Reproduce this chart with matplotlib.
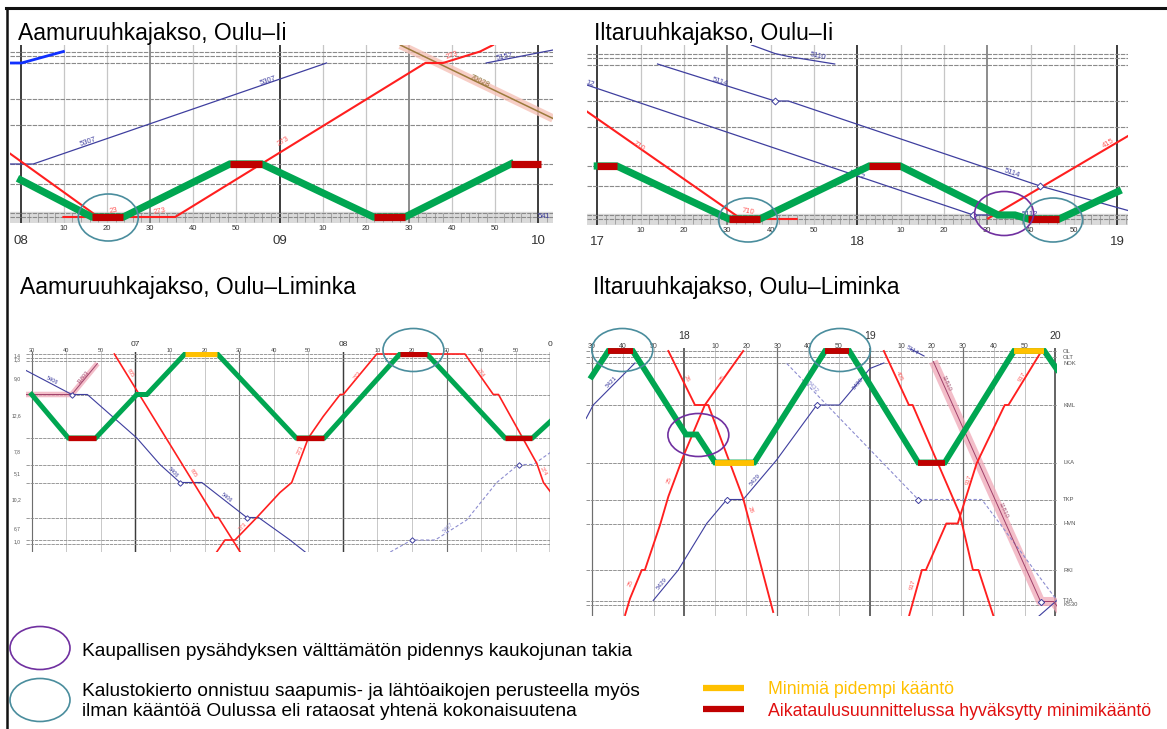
#!/usr/bin/env python3

import matplotlib.pyplot as plt
import numpy as np
from matplotlib.patches import Ellipse

plt.rcParams["font.family"] = ["Liberation Sans", "DejaVu Sans"]

out_filename = "out.png"
W, H = 1167, 729

green = "#00a651"
red = "#ff1f1f"
red_text = "#ff5a5a"
blue = "#3f3f9f"
blue_light = "#8d8dd0"
teal = "#4a8d9d"
purple = "#7030a0"
turn_colors = {"min": "#c00000", "long": "#ffc000"}
circle_colors = {"teal": teal, "purple": purple}

# ---------------- Oulu–Ii, y = km from Oulu ----------------
ii_station_km = [0, 0.8, 6.6, 10.6, 18.4, 23.6, 30.8, 32.3, 33.1]

# morning, minutes after 08:00
am_ii_green_t = [0, 16.5, 23.8, 48.5, 55.9, 81.8, 89.1, 113.6]
am_ii_green_km = [7.4, 0, 0, 10.6, 10.6, 0, 0, 10.6]
am_ii_turn_from = [16.5, 48.5, 81.8, 113.6]
am_ii_turn_to = [23.8, 55.9, 89.1, 120.6]
am_ii_turn_km = [0, 10.6, 0, 10.6]
am_ii_turn_kind = ["min", "min", "min", "min"]

am_ii_23_t = [-2.5, 17.5, 18.5]
am_ii_23_km = [12.7, 0.3, 0]
am_ii_273_t = [9.9, 35.8, 93.8, 97.9, 106.5, 109.5]
am_ii_273_km = [0, 0, 30.8, 30.8, 33.1, 34.4]
am_ii_5307_t = [-2.5, 2.9, 70.9]
am_ii_5307_km = [10.6, 10.6, 30.8]
am_ii_fast_t = [-2.5, 0.2, 9.9]
am_ii_fast_km = [30.8, 30.8, 33.1]
am_ii_5157_t = [107.9, 123.4]
am_ii_5157_km = [30.8, 33.4]
am_ii_70028_t = [88.0, 123.4]
am_ii_70028_km = [34.4, 19.7]

am_ii_label_text = ["5307", "5307", "23", "273", "273", "273", "70028", "5157", "541"]
am_ii_label_t = [15.6, 57.4, 21.4, 32.3, 60.9, 99.9, 106.5, 112.3, 121.4]
am_ii_label_km = [15.0, 27.2, 1.3, 1.1, 15.1, 32.4, 27.1, 32.0, 0.0]
am_ii_label_rot = [19, 19, 10, 10, 31, 20, -26, 11, 0]
am_ii_label_color = [blue, blue, red_text, red_text, red_text, red_text, "#8a6a30", blue, blue]

am_ii_circle_t = [20.3]
am_ii_circle_km = [-0.1]
am_ii_circle_kind = ["teal"]

# evening, minutes after 17:00
pm_ii_green_t = [0, 4.5, 30.4, 37.5, 62.8, 69.9, 92.5, 96.4, 99.5, 106.6, 120.2]
pm_ii_green_km = [10.6, 10.6, 0, 0, 10.6, 10.6, 0.8, 0.8, 0, 0, 5.5]
pm_ii_turn_from = [0, 30.4, 62.8, 99.5]
pm_ii_turn_to = [4.5, 37.5, 69.9, 106.6]
pm_ii_turn_km = [10.6, 0, 10.6, 0]
pm_ii_turn_kind = ["min", "min", "min", "min"]

pm_ii_710_t = [-2.4, 32.4, 34.0, 46.0]
pm_ii_710_km = [21.5, 0.5, 0, 0]
pm_ii_5112_t = [-2.4, 86.8, 92.9, 99.8]
pm_ii_5112_km = [26.8, 0.8, 0.8, 0]
pm_ii_5114_t = [13.9, 41.0, 44.1, 102.2, 122.5]
pm_ii_5114_km = [31.0, 23.6, 23.6, 6.6, 1.7]
pm_ii_5110_t = [35.6, 41.0, 44.1, 54.8]
pm_ii_5110_km = [34.8, 33.1, 32.5, 31.0]
pm_ii_415_t = [90.2, 122.5]
pm_ii_415_km = [0.1, 16.6]
pm_ii_stop_t = [41.0, 102.2, 86.8]
pm_ii_stop_km = [23.6, 6.6, 0.8]

pm_ii_label_text = ["12", "710", "710", "5114", "5114", "5110", "5112", "5112", "415"]
pm_ii_label_t = [-1.7, 9.5, 34.8, 28.3, 95.6, 51.0, 59.9, 99.9, 117.9]
pm_ii_label_km = [27.0, 14.5, 1.4, 27.5, 9.1, 32.5, 8.8, 0.8, 15.1]
pm_ii_label_rot = [-18, -34, -10, -17, -19, -12, -19, 0, 31]
pm_ii_label_color = [blue, red_text, red_text, blue, blue, blue, blue, blue, red_text]

pm_ii_circle_t = [34.8, 93.9, 105.2]
pm_ii_circle_km = [-0.2, 1.1, -0.2]
pm_ii_circle_kind = ["teal", "purple", "teal"]

# ---------------- Oulu–Liminka, y = km from Oulu (downwards) ----------------
# morning, minutes after 06:30
am_lim_station_km = [0, 0.7, 1.3, 8.1, 16.8, 22.1, 25.7, 32.7, 37.2, 37.9]
am_lim_dist_text = ["1,4", "1,3", "9,0", "12,6", "7,8", "5,1", "10,2", "6,7", "1,0"]
am_lim_dist_km = [0.3, 1.2, 5.0, 12.4, 19.5, 23.9, 29.1, 34.9, 37.5]

am_lim_green_t = [0, 10.6, 18.5, 30.4, 33.3, 44.3, 53.7, 76.5, 84.6, 106.5, 114.3, 136.9, 144.8, 150]
am_lim_green_km = [8.1, 16.8, 16.8, 8.1, 8.1, 0, 0, 16.8, 16.8, 0, 0, 16.8, 16.8, 13.5]
am_lim_turn_from = [10.6, 44.3, 76.5, 106.5, 136.9]
am_lim_turn_to = [18.5, 53.7, 84.6, 114.3, 144.8]
am_lim_turn_km = [16.8, 0, 16.8, 0, 16.8]
am_lim_turn_kind = ["min", "long", "min", "min", "min"]

am_lim_11803_t = [-1.9, 11.6, 19.0]
am_lim_11803_km = [8.1, 8.1, 1.9]
am_lim_5406_t = [-1.9, 11.6, 16.1, 30.4, 37.1, 42.9, 49.2, 62.2, 65.6, 74.7, 79.1]
am_lim_5406_km = [3.2, 8.1, 8.1, 16.8, 22.1, 25.7, 25.7, 32.7, 32.7, 37.2, 39.6]
am_lim_605_t = [23.9, 53.0, 54.0, 60.3]
am_lim_605_km = [0, 32.7, 32.7, 39.6]
am_lim_273_t = [53.5, 55.9, 58.8, 65.1, 71.8, 75.2, 80.0, 84.3, 89.2, 90.1, 99.8, 125.3,
                133.5, 135.0, 146.1, 148.0, 150.4]
am_lim_273_km = [39.6, 37.2, 37.2, 32.7, 27.7, 25.7, 16.8, 12.5, 8.1, 8.1, 0, 0,
                 8.1, 8.1, 21.9, 25.7, 27.9]
am_lim_5407_t = [103.7, 109.9, 116.7, 125.8, 134.5, 140.8, 145.1, 150.4]
am_lim_5407_km = [39.6, 37.2, 37.2, 33.2, 25.7, 22.1, 22.1, 19.5]
am_lim_stop_t = [11.6, 42.9, 62.2, 109.9, 140.8]
am_lim_stop_km = [8.1, 25.7, 32.7, 37.2, 22.1]

am_lim_label_text = ["11803", "5406", "5406", "5406", "605", "605", "273", "273", "273",
                     "274", "274", "5407"]
am_lim_label_t = [14.9, 5.9, 40.9, 56.5, 28.7, 46.7, 61.2, 77.8, 94.3, 129.7, 147.9, 120.4]
am_lim_label_km = [4.6, 5.2, 23.6, 28.8, 3.8, 23.8, 34.6, 19.2, 4.2, 3.8, 23.5, 34.8]
am_lim_label_rot = [50, -27, -46, -38, -58, -58, 46, 65, 51, -55, -60, 44]
am_lim_label_color = ["#a0406a", blue, blue, blue, red_text, red_text, red_text, red_text,
                      red_text, red_text, red_text, blue_light]

am_lim_circle_t = [110.4]
am_lim_circle_km = [-0.8]
am_lim_circle_kind = ["teal"]

# evening, minutes after 17:30
pm_lim_station_name = ["OL", "OLT", "NOK", "KML", "LKA", "TKP", "HVN", "RKI", "TJA", "KS30"]
pm_lim_station_km = [0, 1.2, 2.4, 10.8, 22.3, 29.7, 34.5, 43.8, 49.9, 50.8]

pm_lim_green_t = [0, 5.4, 13.3, 30.5, 34.0, 39.9, 52.6, 75.5, 83.3, 105.6, 114.2, 136.6, 146.4, 150.5]
pm_lim_green_km = [5.1, 0, 0, 16.7, 16.7, 22.3, 22.3, 0, 0, 22.3, 22.3, 0, 0, 3.7]
pm_lim_turn_from = [5.4, 39.9, 75.5, 105.6, 136.6]
pm_lim_turn_to = [13.3, 52.6, 83.3, 114.2, 146.4]
pm_lim_turn_km = [0, 22.3, 0, 22.3, 0]
pm_lim_turn_kind = ["min", "long", "min", "min", "long"]

pm_lim_5421_t = [-1.8, 0.5, 14.0]
pm_lim_5421_km = [13.5, 10.8, 2.4]
pm_lim_26_t = [24.8, 33.4, 37.7, 49.0, 58.7]
pm_lim_26_km = [0, 10.8, 10.8, 29.5, 52.2]
pm_lim_25_t = [10.8, 12.4, 16.2, 17.2, 22.1, 24.8, 29.6, 36.6, 49.0]
pm_lim_25_km = [52.8, 49.5, 43.8, 43.8, 34.8, 29.1, 21.1, 10.8, 0]
pm_lim_5429_t = [19.9, 28.0, 37.2, 43.7, 49.0, 59.8, 72.8, 80.1, 90.0, 94.5]
pm_lim_5429_km = [49.9, 43.8, 34.5, 29.7, 29.7, 21.8, 10.8, 10.8, 3.5, 2.4]
pm_lim_5432_t = [63.1, 105.6, 126.2, 150.5]
pm_lim_5432_km = [2.5, 29.7, 29.7, 49.9]
pm_lim_5114_t = [103.2, 107.5]
pm_lim_5114_km = [-0.4, 1.0]
pm_lim_405_t = [94.5, 102.6, 103.8, 119.0, 123.3, 125.1, 130.0]
pm_lim_405_km = [0, 10.8, 10.8, 32.5, 43.8, 43.8, 53.1]
pm_lim_917_t = [102.6, 106.8, 108.1, 114.7, 118.4, 124.5, 133.6, 134.8, 145.5]
pm_lim_917_km = [53.1, 43.8, 43.8, 34.5, 34.5, 22.5, 10.8, 10.8, 0]
pm_lim_11810_t = [110.5, 145.2, 149.4, 153.0]
pm_lim_11810_km = [2.1, 50.1, 50.1, 53.1]
pm_lim_tail_t = [144.5, 150.6]
pm_lim_tail_km = [53.1, 49.8]
pm_lim_stop_t = [43.7, 72.8, 105.6, 145.2]
pm_lim_stop_km = [29.7, 10.8, 29.7, 50.1]

pm_lim_label_text = ["5421", "26", "28", "25", "25", "25", "5429", "5429", "5430", "5432",
                     "5114", "405", "917", "917", "917", "11810", "11810"]
pm_lim_label_t = [6.5, 30.7, 51.2, 42.4, 25.1, 12.6, 22.6, 52.8, 86.2, 71.6, 103.6, 99.5,
                  139.1, 122.0, 103.8, 114.7, 133.0]
pm_lim_label_km = [6.1, 5.5, 31.8, 5.5, 25.8, 46.5, 46.5, 25.8, 6.5, 7.1, -0.2, 5.1,
                   5.1, 25.8, 46.8, 6.5, 31.8]
pm_lim_label_rot = [46, -64, -69, 55, 71, 67, 51, 49, 50, -46, -31, -65, 58, 72, 74, -66, -66]
pm_lim_label_color = [blue, red_text, red_text, red_text, red_text, red_text, blue, blue, blue,
                      blue_light, blue, red_text, red_text, red_text, red_text, "#a05070", "#a05070"]

pm_lim_circle_t = [9.9, 80.3, 34.5]
pm_lim_circle_km = [-0.2, -0.2, 16.8]
pm_lim_circle_kind = ["teal", "teal", "purple"]


def panel_axes(fig, x0, y0, x1, y1, tlim, ylim):
    ax = fig.add_axes([x0 / W, 1 - y1 / H, (x1 - x0) / W, (y1 - y0) / H])
    ax.set_xlim(*tlim)
    ax.set_ylim(*ylim)
    ax.set_axis_off()
    return ax


def draw_grid(ax, t_end, hour_at, stations, scale=1.0):
    for t in range(0, t_end + 1, 10):
        if (t - hour_at) % 60 == 0:
            color, lw = "#3c3c3c", 1.4 * scale
        elif (t - hour_at) % 30 == 0:
            color, lw = "#6e6e6e", 1.1 * scale
        else:
            color, lw = "#c6c6c6", 0.9 * scale
        ax.axvline(t, color=color, lw=lw, zorder=1)
    for km in stations:
        ax.axhline(km, color="#8a8a8a", lw=0.8 * scale, ls=(0, (4, 1)), zorder=1.5)


def draw_line(ax, t, km, kind, scale=1.0):
    if kind == "red":
        ax.plot(t, km, color=red, lw=1.5 * scale, zorder=3)
    elif kind == "blue":
        ax.plot(t, km, color=blue, lw=0.9 * scale, zorder=3)
    elif kind == "blue_dash":
        ax.plot(t, km, color=blue_light, lw=0.8, ls=(0, (3, 2)), zorder=3)
    elif kind == "fast":
        ax.plot(t, km, color="#1030ff", lw=2.0, zorder=3)
    elif kind == "freight":
        ax.plot(t, km, color="#f6c2b8", lw=6, alpha=0.8, solid_capstyle="butt", zorder=2.5)
        ax.plot(t, km, color="#9c7a3c", lw=1.1, zorder=3)
    elif kind == "special":
        ax.plot(t, km, color="#f0a8b8", lw=5 * scale, alpha=0.75, solid_capstyle="butt", zorder=2.5)
        ax.plot(t, km, color="#a0406a", lw=0.7, zorder=3)


def draw_stops(ax, t, km, ms=3.5):
    ax.plot(t, km, ls="", marker="D", ms=ms, mfc="white", mec=blue, mew=0.7, zorder=3.5)


def draw_circulation(ax, gt, gkm, t_from, t_to, t_km, t_kind, glw, blw):
    ax.plot(gt, gkm, color=green, lw=glw, zorder=4, solid_joinstyle="miter")
    for a, b, km, kind in zip(t_from, t_to, t_km, t_kind):
        ax.plot([a, b], [km, km], color=turn_colors[kind], lw=blw,
                solid_capstyle="butt", zorder=5)


def draw_labels(ax, text, t, km, rot, color, size):
    for s, x, y, r, c in zip(text, t, km, rot, color):
        ax.text(x, y, s, rotation=r, rotation_mode="anchor", ha="center", va="center",
                fontsize=size, color=c, zorder=3.6)


def draw_circles(ax, t, km, kind, w, h):
    for x, y, k in zip(t, km, kind):
        ax.add_patch(Ellipse((x, y), w, h, fill=False, ec=circle_colors[k], lw=1.2,
                             zorder=6, clip_on=False))


def main():
    fig = plt.figure(figsize=(W / 100, H / 100), dpi=100)

    # frame + legend in pixel space
    base = fig.add_axes([0, 0, 1, 1])
    base.set_xlim(0, W)
    base.set_ylim(H, 0)
    base.set_axis_off()
    base.plot([6, W], [8, 8], color="#111111", lw=2.2)
    base.plot([7, 7], [8, H], color="#111111", lw=1.8)

    base.add_patch(Ellipse((40, 648), 60, 43, fill=False, ec=purple, lw=1.2))
    base.add_patch(Ellipse((40, 700), 60, 43, fill=False, ec=teal, lw=1.2))
    leg_font = 13.8
    base.text(82, 651, "Kaupallisen pysähdyksen välttämätön pidennys kaukojunan takia",
              fontsize=leg_font, va="center")
    base.text(82, 691, "Kalustokierto onnistuu saapumis- ja lähtöaikojen perusteella myös",
              fontsize=leg_font, va="center")
    base.text(82, 712, "ilman kääntöä Oulussa eli rataosat yhtenä kokonaisuutena",
              fontsize=leg_font, va="center")
    base.plot([703, 744], [688, 688], color=turn_colors["long"], lw=4.5, solid_capstyle="butt")
    base.plot([703, 744], [709, 709], color=turn_colors["min"], lw=4.5, solid_capstyle="butt")
    base.text(768, 689, "Minimiä pidempi kääntö", fontsize=12.8, va="center",
              color="#ffc000")
    base.text(768, 711, "Aikataulusuunnittelussa hyväksytty minimikääntö", fontsize=12.8,
              va="center", color="#e01010")

    title_size = 16.5
    fig.text(18 / W, 1 - 40 / H, "Aamuruuhkajakso, Oulu–Ii", fontsize=title_size)
    fig.text(594 / W, 1 - 40 / H, "Iltaruuhkajakso, Oulu–Ii", fontsize=title_size)
    fig.text(20 / W, 1 - 294 / H, "Aamuruuhkajakso, Oulu–Liminka", fontsize=title_size)
    fig.text(593 / W, 1 - 294 / H, "Iltaruuhkajakso, Oulu–Liminka", fontsize=title_size)

    # ---- top-left: morning Oulu–Ii ----
    ax = panel_axes(fig, 10, 45, 553, 223, (-2.48, 123.4), (-1.2, 34.4))
    ax.axhspan(-1.0, 1.0, color="#dadada", zorder=0.5)
    ax.vlines(np.arange(0, 124, 2), -0.9, 0.9, color="#9a9a9a", lw=0.6, zorder=0.6)
    draw_grid(ax, 120, 0, ii_station_km)
    draw_line(ax, am_ii_5307_t, am_ii_5307_km, "blue")
    draw_line(ax, am_ii_fast_t, am_ii_fast_km, "fast")
    draw_line(ax, am_ii_5157_t, am_ii_5157_km, "blue")
    draw_line(ax, am_ii_70028_t, am_ii_70028_km, "freight")
    draw_line(ax, am_ii_23_t, am_ii_23_km, "red")
    draw_line(ax, am_ii_273_t, am_ii_273_km, "red")
    draw_circulation(ax, am_ii_green_t, am_ii_green_km, am_ii_turn_from, am_ii_turn_to,
                     am_ii_turn_km, am_ii_turn_kind, 5.2, 5.2)
    draw_labels(ax, am_ii_label_text, am_ii_label_t, am_ii_label_km, am_ii_label_rot,
                am_ii_label_color, 5.5)
    draw_circles(ax, am_ii_circle_t, am_ii_circle_km, am_ii_circle_kind, 13.9, 9.4)
    for t in range(10, 121, 10):
        if t % 60:
            ax.text(t, -2.2, str(t % 60), ha="center", va="center", fontsize=5.5, color="#333333")
    for t, s in zip([0, 60, 120], ["08", "09", "10"]):
        ax.text(t, -4.8, s, ha="center", va="center", fontsize=9.5, color="#333333")

    # ---- top-right: evening Oulu–Ii ----
    ax = panel_axes(fig, 587, 45, 1128, 225, (-2.38, 122.5), (-1.2, 34.8))
    ax.axhspan(-1.0, 1.0, color="#dadada", zorder=0.5)
    ax.vlines(np.arange(0, 123, 2), -0.9, 0.9, color="#9a9a9a", lw=0.6, zorder=0.6)
    draw_grid(ax, 120, 0, ii_station_km)
    draw_line(ax, pm_ii_5112_t, pm_ii_5112_km, "blue")
    draw_line(ax, pm_ii_5114_t, pm_ii_5114_km, "blue")
    draw_line(ax, pm_ii_5110_t, pm_ii_5110_km, "blue")
    draw_stops(ax, pm_ii_stop_t, pm_ii_stop_km)
    draw_line(ax, pm_ii_710_t, pm_ii_710_km, "red")
    draw_line(ax, pm_ii_415_t, pm_ii_415_km, "red")
    draw_circulation(ax, pm_ii_green_t, pm_ii_green_km, pm_ii_turn_from, pm_ii_turn_to,
                     pm_ii_turn_km, pm_ii_turn_kind, 5.2, 5.2)
    draw_labels(ax, pm_ii_label_text, pm_ii_label_t, pm_ii_label_km, pm_ii_label_rot,
                pm_ii_label_color, 5.5)
    draw_circles(ax, pm_ii_circle_t, pm_ii_circle_km, pm_ii_circle_kind, 13.6, 8.8)
    for t in range(10, 121, 10):
        if t % 60:
            ax.text(t, -2.2, str(t % 60), ha="center", va="center", fontsize=5.5, color="#333333")
    for t, s in zip([0, 60, 120], ["17", "18", "19"]):
        ax.text(t, -4.6, s, ha="center", va="center", fontsize=9.5, color="#333333")

    # ---- bottom-left: morning Oulu–Liminka ----
    ax = panel_axes(fig, 26, 352, 550, 552, (-1.65, 149.9), (39.6, -0.4))
    draw_grid(ax, 150, 30, am_lim_station_km, scale=0.75)
    draw_line(ax, am_lim_5406_t, am_lim_5406_km, "blue", 0.9)
    draw_line(ax, am_lim_5407_t, am_lim_5407_km, "blue_dash")
    draw_stops(ax, am_lim_stop_t, am_lim_stop_km, 2.8)
    draw_line(ax, am_lim_11803_t, am_lim_11803_km, "special", 0.8)
    draw_line(ax, am_lim_605_t, am_lim_605_km, "red", 0.8)
    draw_line(ax, am_lim_273_t, am_lim_273_km, "red", 0.8)
    draw_circulation(ax, am_lim_green_t, am_lim_green_km, am_lim_turn_from, am_lim_turn_to,
                     am_lim_turn_km, am_lim_turn_kind, 3.6, 3.8)
    draw_labels(ax, am_lim_label_text, am_lim_label_t, am_lim_label_km, am_lim_label_rot,
                am_lim_label_color, 4)
    draw_circles(ax, am_lim_circle_t, am_lim_circle_km, am_lim_circle_kind, 17.6, 8.6)
    for s, km in zip(am_lim_dist_text, am_lim_dist_km):
        ax.text(-4.3, km, s, ha="center", va="center", fontsize=3.6, color="#555555")
    for t in range(0, 151, 10):
        if (t - 30) % 60:
            ax.text(t, -0.7, str((30 + t) % 60), ha="center", va="center", fontsize=4,
                    color="#444444")
    for t, s in zip([30, 90, 150], ["07", "08", "0"]):
        ax.text(t, -2.0, s, ha="center", va="center", fontsize=6, color="#333333")

    # ---- bottom-right: evening Oulu–Liminka ----
    ax = panel_axes(fig, 586, 348, 1057, 616, (-1.84, 150.5), (53.0, -0.6))
    draw_grid(ax, 150, 30, pm_lim_station_km, scale=0.8)
    draw_line(ax, pm_lim_5421_t, pm_lim_5421_km, "blue", 0.9)
    draw_line(ax, pm_lim_5429_t, pm_lim_5429_km, "blue", 0.9)
    draw_line(ax, pm_lim_5114_t, pm_lim_5114_km, "blue", 0.9)
    draw_line(ax, pm_lim_tail_t, pm_lim_tail_km, "blue", 0.9)
    draw_line(ax, pm_lim_5432_t, pm_lim_5432_km, "blue_dash")
    draw_line(ax, pm_lim_11810_t, pm_lim_11810_km, "special", 1.3)
    draw_stops(ax, pm_lim_stop_t, pm_lim_stop_km, 3.2)
    draw_line(ax, pm_lim_26_t, pm_lim_26_km, "red", 0.9)
    draw_line(ax, pm_lim_25_t, pm_lim_25_km, "red", 0.9)
    draw_line(ax, pm_lim_405_t, pm_lim_405_km, "red", 0.9)
    draw_line(ax, pm_lim_917_t, pm_lim_917_km, "red", 0.9)
    draw_circulation(ax, pm_lim_green_t, pm_lim_green_km, pm_lim_turn_from, pm_lim_turn_to,
                     pm_lim_turn_km, pm_lim_turn_kind, 4.2, 4.2)
    draw_labels(ax, pm_lim_label_text, pm_lim_label_t, pm_lim_label_km, pm_lim_label_rot,
                pm_lim_label_color, 4.5)
    draw_circles(ax, pm_lim_circle_t, pm_lim_circle_km, pm_lim_circle_kind, 19.7, 8.6)
    for s, km in zip(pm_lim_station_name, pm_lim_station_km):
        ax.text(152.5, km, s, ha="left", va="center", fontsize=4.2, color="#555555")
    for t in range(0, 151, 10):
        if (t - 30) % 60:
            ax.text(t, -0.85, str((30 + t) % 60), ha="center", va="center", fontsize=5,
                    color="#444444")
    for t, s in zip([30, 90, 150], ["18", "19", "20"]):
        ax.text(t, -2.0, s, ha="center", va="bottom", fontsize=7.5, color="#333333")

    fig.savefig(out_filename, dpi=100)


if __name__ == "__main__":
    main()
